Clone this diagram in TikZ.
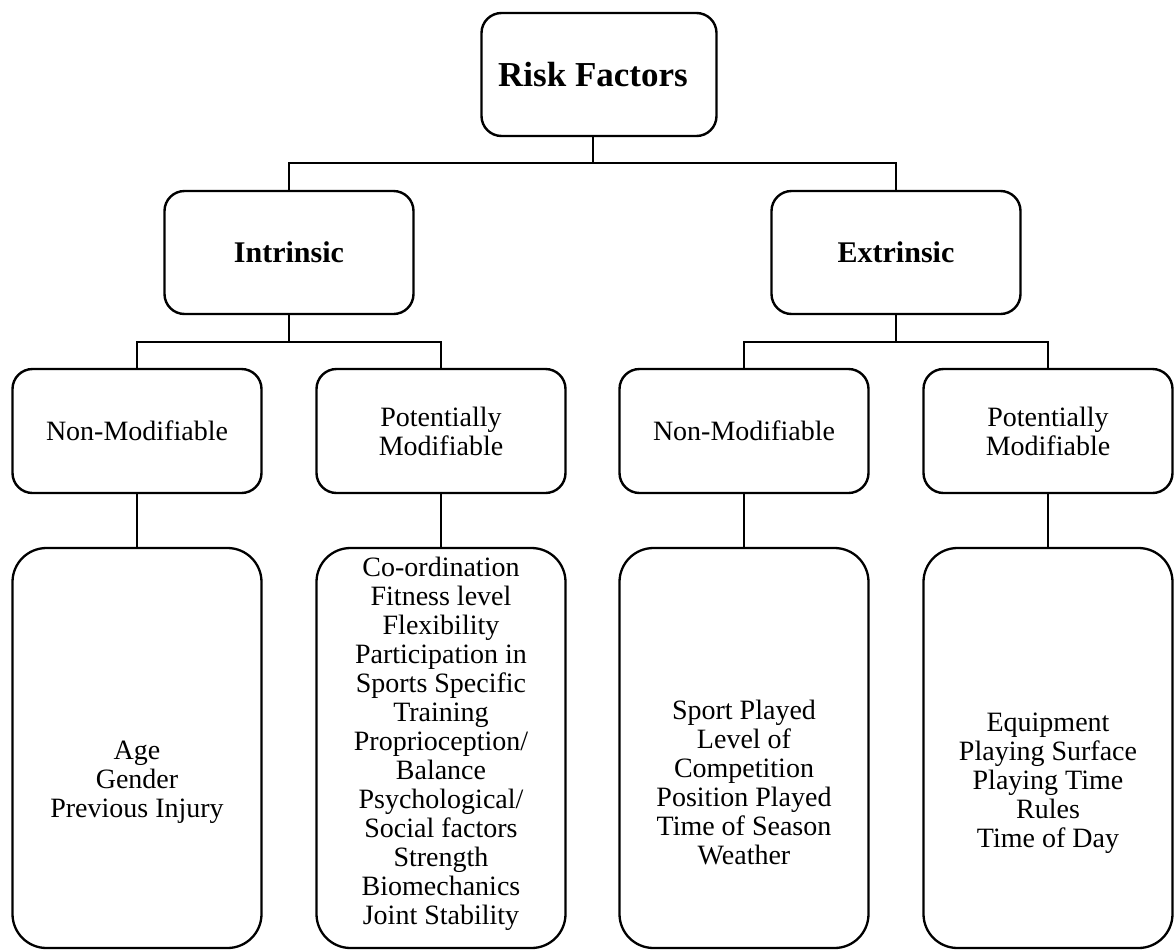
\documentclass[tikz,border=0pt]{standalone}
\usepackage{fontspec}
\setmainfont{Liberation Serif}
\tikzset{
  x=1pt,y=1pt,
  box/.style={draw=black, line width=2.4pt, rounded corners=20pt, fill=white,
    align=center, inner sep=0pt, font=\fontsize{28}{29}\selectfont},
  topbox/.style={box, minimum width=249pt, minimum height=123pt},
  midbox/.style={box, minimum width=249pt, minimum height=124pt},
  tallbox/.style={draw=black, line width=2.3pt, rounded corners=34pt,
    minimum width=249pt, minimum height=400pt, inner sep=0pt},
  itemtext/.style={align=center, inner sep=0pt, font=\fontsize{28}{29}\selectfont},
  conn/.style={draw=black, line width=2.4pt},
}
\begin{document}
\begin{tikzpicture}
\useasboundingbox (0,0) rectangle (1176,-951);

% level 1
\node[topbox, minimum width=235pt, font=\fontsize{35}{38}\selectfont\bfseries] (rf) at (599,-74.5) {Risk Factors\hspace*{12pt}};
% level 2
\node[topbox, font=\fontsize{30}{32}\selectfont\bfseries] (intr) at (289,-252.5) {Intrinsic};
\node[topbox, font=\fontsize{30}{32}\selectfont\bfseries] (extr) at (896,-252.5) {Extrinsic};
% level 3
\node[midbox] (inm) at (137,-431) {Non-Modifiable};
\node[midbox] (ipm) at (441,-431) {Potentially\\Modifiable};
\node[midbox] (enm) at (744,-431) {Non-Modifiable};
\node[midbox] (epm) at (1048,-431) {Potentially\\Modifiable};
% level 4 boxes
\node[tallbox] (binm) at (137,-748) {};
\node[tallbox] (bipm) at (441,-748) {};
\node[tallbox] (benm) at (744,-748) {};
\node[tallbox] (bepm) at (1048,-748) {};
% level 4 texts
\node[itemtext] (tinm) at (137,-782) {Age\\Gender\\Previous Injury};
\node[itemtext] (tipm) at (441,-744) {Co-ordination\\Fitness level\\Flexibility\\Participation in\\Sports Specific\\Training\\Proprioception/\\Balance\\Psychological/\\Social factors\\Strength\\Biomechanics\\Joint Stability};
\node[itemtext] (tenm) at (744,-782) {Sport Played\\Level of\\Competition\\Position Played\\Time of Season\\Weather};
\node[itemtext] (tepm) at (1048,-783) {Equipment\\Playing Surface\\Playing Time\\Rules\\Time of Day};

% connectors
\draw[conn] ([xshift=-6pt]rf.south) -- ++(0,-26) -| (intr.north);
\draw[conn] ([xshift=-6pt]rf.south) -- ++(0,-26) -| (extr.north);
\draw[conn] (intr.south) -- ++(0,-27) -| (inm.north);
\draw[conn] (intr.south) -- ++(0,-27) -| (ipm.north);
\draw[conn] (extr.south) -- ++(0,-27) -| (enm.north);
\draw[conn] (extr.south) -- ++(0,-27) -| (epm.north);
\draw[conn] (inm.south) -- (binm.north);
\draw[conn] (ipm.south) -- (bipm.north);
\draw[conn] (enm.south) -- (benm.north);
\draw[conn] (epm.south) -- (bepm.north);
\end{tikzpicture}
\end{document}
